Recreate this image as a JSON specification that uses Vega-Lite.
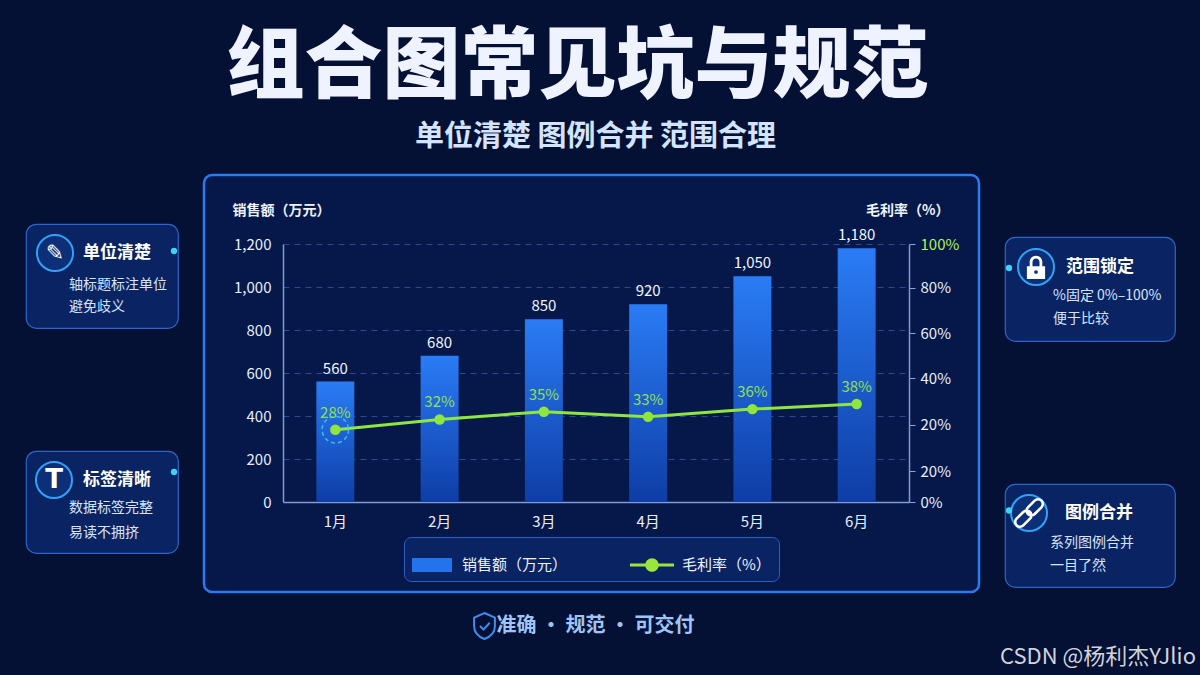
{
  "$schema": "https://vega.github.io/schema/vega-lite/v6.json",
  "background": "#041034",
  "padding": {"left": 25, "top": 0, "right": 40, "bottom": 10},
  "config": {"view": {"stroke": null}, "font": "Noto Sans CJK SC"},
  "datasets": {
    "sales": [
      {"month": "1月", "sales": 560, "rate": 0.28},
      {"month": "2月", "sales": 680, "rate": 0.32},
      {"month": "3月", "sales": 850, "rate": 0.35},
      {"month": "4月", "sales": 920, "rate": 0.33},
      {"month": "5月", "sales": 1050, "rate": 0.36},
      {"month": "6月", "sales": 1180, "rate": 0.38}
    ],
    "boxes": [
      {"id": "b1", "title": "单位清楚", "body": "轴标题标注单位\n避免歧义", "icon": "✎"},
      {"id": "b2", "title": "标签清晰", "body": "数据标签完整\n易读不拥挤", "icon": "T"},
      {"id": "b3", "title": "范围锁定", "body": "%固定 0%–100%\n便于比较", "icon": ""},
      {"id": "b4", "title": "图例合并", "body": "系列图例合并\n一目了然", "icon": ""}
    ],
    "header": [
      {"title": "组合图常见坑与规范", "subtitle": "单位清楚 图例合并 范围合理"}
    ],
    "footer": [
      {"t": "准确 · 规范 · 可交付", "w": "CSDN @杨利杰YJlio"}
    ]
  },
  "spacing": 0,
  "vconcat": [
    {
      "width": 1143,
      "height": 173,
      "data": {"name": "header"},
      "layer": [
        {"mark": {"type": "text", "fontSize": 78, "fontWeight": 900, "color": "#eef3ff", "dx": -20, "dy": -18}, "encoding": {"text": {"field": "title"}}},
        {"mark": {"type": "text", "fontSize": 29, "fontWeight": "bold", "color": "#d4e4ff", "dx": -2, "dy": 50}, "encoding": {"text": {"field": "subtitle"}}}
      ]
    },
    {
      "spacing": 23,
      "hconcat": [
        {
          "spacing": 0,
          "vconcat": [
            {"width": 152, "height": 48, "data": {"values": []}, "mark": {"type": "point", "opacity": 0}},
            {
              "width": 152, "height": 104,
              "view": {"fill": "#0b2667", "fillOpacity": 0.9, "stroke": "#2d64c9", "strokeWidth": 1.2, "cornerRadius": 10},
              "data": {"name": "boxes"},
              "transform": [{"filter": "datum.id == 'b1'"}],
              "layer": [
                {"mark": {"type": "point", "shape": "circle", "filled": true, "size": 1300, "fill": "#0d2f78", "stroke": "#2fa3f7", "strokeWidth": 2, "opacity": 1, "xOffset": -47, "yOffset": -23}},
                {"mark": {"type": "text", "font": "DejaVu Sans", "fontSize": 22, "color": "#ffffff", "dx": -47, "dy": -23}, "encoding": {"text": {"field": "icon"}}},
                {"mark": {"type": "text", "align": "left", "fontSize": 17, "fontWeight": "bold", "color": "#ffffff", "dx": -19, "dy": -23}, "encoding": {"text": {"field": "title"}}},
                {"mark": {"type": "text", "align": "left", "fontSize": 14, "color": "#d8e3ff", "dx": -33, "dy": 9, "lineBreak": "\n", "lineHeight": 22}, "encoding": {"text": {"field": "body"}}},
                {"mark": {"type": "point", "shape": "circle", "filled": true, "size": 40, "color": "#3fd2f5", "opacity": 1, "xOffset": 72, "yOffset": -25}}
              ]
            },
            {"width": 152, "height": 121, "data": {"values": []}, "mark": {"type": "point", "opacity": 0}},
            {
              "width": 152, "height": 102,
              "view": {"fill": "#0b2667", "fillOpacity": 0.9, "stroke": "#2d64c9", "strokeWidth": 1.2, "cornerRadius": 10},
              "data": {"name": "boxes"},
              "transform": [{"filter": "datum.id == 'b2'"}],
              "layer": [
                {"mark": {"type": "point", "shape": "circle", "filled": true, "size": 1300, "fill": "#0d2f78", "stroke": "#2fa3f7", "strokeWidth": 2, "opacity": 1, "xOffset": -48, "yOffset": -22}},
                {"mark": {"type": "text", "font": "DejaVu Sans", "fontSize": 26, "fontWeight": "bold", "color": "#ffffff", "dx": -48, "dy": -22}, "encoding": {"text": {"field": "icon"}}},
                {"mark": {"type": "text", "align": "left", "fontSize": 17, "fontWeight": "bold", "color": "#ffffff", "dx": -19, "dy": -22}, "encoding": {"text": {"field": "title"}}},
                {"mark": {"type": "text", "align": "left", "fontSize": 14, "color": "#d8e3ff", "dx": -33, "dy": 6, "lineBreak": "\n", "lineHeight": 25}, "encoding": {"text": {"field": "body"}}},
                {"mark": {"type": "point", "shape": "circle", "filled": true, "size": 40, "color": "#3fd2f5", "opacity": 1, "xOffset": 72, "yOffset": -30}}
              ]
            }
          ]
        },
        {
          "width": 775,
          "height": 417,
          "view": {"fill": "#051849", "stroke": "#2a7af2", "strokeWidth": 2.5, "cornerRadius": 8},
          "data": {"name": "sales"},
          "encoding": {
            "x": {
              "field": "month",
              "type": "ordinal",
              "sort": null,
              "scale": {"range": [79, 705], "paddingInner": 0.636, "paddingOuter": 0.32},
              "axis": {
                "orient": "bottom",
                "offset": -90,
                "title": null,
                "labelAngle": 0,
                "labelColor": "#e8eeff",
                "labelFontSize": 15,
                "labelPadding": 12,
                "ticks": false,
                "tickSize": 0,
                "domainColor": "#7f9bd6",
                "domainWidth": 1.5,
                "grid": false
              }
            }
          },
          "layer": [
            {
              "encoding": {
                "y": {
                  "field": "sales",
                  "type": "quantitative",
                  "scale": {"domain": [0, 1200], "range": [327, 69], "nice": false},
                  "axis": {
                    "orient": "left",
                    "offset": -79,
                    "values": [0, 200, 400, 600, 800, 1000, 1200],
                    "format": ",.0f",
                    "title": "销售额（万元）",
                    "titleAngle": 0,
                    "titleAlign": "left",
                    "titleBaseline": "middle",
                    "titleX": -51,
                    "titleY": 35,
                    "titleColor": "#eef3ff",
                    "titleFontSize": 14,
                    "titleFontWeight": "bold",
                    "labelColor": "#e8eeff",
                    "labelFontSize": 15,
                    "labelPadding": 12,
                    "ticks": false,
                    "tickSize": 0,
                    "domainColor": "#7f9bd6",
                    "domainWidth": 1.5,
                    "grid": true,
                    "gridColor": "#2b4a8e",
                    "gridDash": [6, 5],
                    "gridWidth": 1
                  }
                }
              },
              "layer": [
                {
                  "mark": {
                    "type": "bar",
                    "fill": {
                      "gradient": "linear",
                      "x1": 0, "y1": 0, "x2": 0, "y2": 1,
                      "stops": [
                        {"offset": 0, "color": "#2a7cf5"},
                        {"offset": 1, "color": "#0e3da6"}
                      ]
                    }
                  }
                },
                {
                  "mark": {"type": "text", "color": "#f2f5ff", "fontSize": 15, "dy": -13},
                  "encoding": {"text": {"field": "sales", "format": ","}}
                }
              ]
            },
            {
              "encoding": {
                "y": {
                  "field": "rate",
                  "type": "quantitative",
                  "scale": {"domain": [0, 1], "range": [327, 69], "nice": false},
                  "axis": {
                    "orient": "right",
                    "offset": -70,
                    "values": [0, 0.12, 0.3, 0.48, 0.655, 0.83, 1],
                    "labelExpr": "datum.value < 0.05 ? '0%' : datum.value < 0.4 ? '20%' : datum.value < 0.55 ? '40%' : datum.value < 0.7 ? '60%' : datum.value < 0.9 ? '80%' : '100%'",
                    "labelColor": {"condition": {"test": "datum.value == 1", "value": "#b3f05e"}, "value": "#e8eeff"},
                    "labelFontSize": 15,
                    "labelPadding": 5,
                    "ticks": true,
                    "tickSize": 6,
                    "tickColor": "#8aa6dc",
                    "domainColor": "#7f9bd6",
                    "domainWidth": 1.5,
                    "grid": false,
                    "title": "毛利率（%）",
                    "titleAngle": 0,
                    "titleAlign": "right",
                    "titleBaseline": "middle",
                    "titleX": 40,
                    "titleY": 35,
                    "titleColor": "#eef3ff",
                    "titleFontSize": 14,
                    "titleFontWeight": "bold"
                  }
                }
              },
              "layer": [
                {
                  "mark": {
                    "type": "line",
                    "color": "#8fe63c",
                    "strokeWidth": 3,
                    "point": {"filled": true, "size": 110, "color": "#8fe63c", "opacity": 1}
                  },
                  "encoding": {}
                },
                {
                  "transform": [{"filter": "datum.month == '1月'"}],
                  "mark": {"type": "point", "shape": "circle", "filled": false, "size": 700, "stroke": "#35bdf2", "strokeWidth": 1.5, "strokeDash": [4, 3], "opacity": 1}
                },
                {
                  "mark": {"type": "text", "color": "#8fe04a", "fontSize": 15, "dy": -17},
                  "encoding": {"text": {"field": "rate", "format": ".0%"}}
                }
              ]
            },
            {
              "transform": [{"filter": "false"}],
              "mark": {"type": "point", "filled": true, "opacity": 1},
              "encoding": {
                "color": {
                  "field": "series",
                  "type": "nominal",
                  "scale": {"domain": ["销售额（万元）", "毛利率（%）"], "range": ["#2373ec", "#9be53f"]},
                  "legend": {
                    "orient": "none",
                    "legendX": 378,
                    "legendY": 537,
                    "direction": "horizontal",
                    "title": null,
                    "fillColor": "#0a2463",
                    "strokeColor": "#2d5fc0",
                    "cornerRadius": 7,
                    "padding": 8,
                    "labelColor": "#eef3ff",
                    "labelFontSize": 15,
                    "labelOffset": 10,
                    "labelLimit": 200,
                    "columnPadding": 62,
                    "symbolSize": 1600,
                    "symbolOpacity": 1,
                    "symbolStrokeWidth": 0
                  }
                },
                "shape": {
                  "field": "series",
                  "type": "nominal",
                  "scale": {
                    "domain": ["销售额（万元）", "毛利率（%）"],
                    "range": [
                      "M-1,-0.35H1V0.35H-1Z",
                      "M-1.1,-0.07H1.1V0.07H-1.1Z M0.34,0A0.34,0.34 0 1,1 -0.34,0A0.34,0.34 0 1,1 0.34,0Z"
                    ]
                  },
                  "legend": {
                    "orient": "none",
                    "legendX": 378,
                    "legendY": 537,
                    "direction": "horizontal",
                    "title": null,
                    "fillColor": "#0a2463",
                    "strokeColor": "#2d5fc0",
                    "cornerRadius": 7,
                    "padding": 8,
                    "labelColor": "#eef3ff",
                    "labelFontSize": 15,
                    "labelOffset": 10,
                    "labelLimit": 200,
                    "columnPadding": 62,
                    "symbolSize": 1600,
                    "symbolOpacity": 1,
                    "symbolStrokeWidth": 0
                  }
                }
              }
            }
          ],
          "resolve": {"scale": {"y": "independent"}}
        },
        {
          "spacing": 0,
          "vconcat": [
            {"width": 170, "height": 61, "data": {"values": []}, "mark": {"type": "point", "opacity": 0}},
            {
              "width": 170, "height": 104,
              "view": {"fill": "#0b2667", "fillOpacity": 0.9, "stroke": "#2d64c9", "strokeWidth": 1.2, "cornerRadius": 10},
              "data": {"name": "boxes"},
              "transform": [{"filter": "datum.id == 'b3'"}],
              "layer": [
                {"mark": {"type": "point", "shape": "circle", "filled": true, "size": 1300, "fill": "#0d2f78", "stroke": "#2fa3f7", "strokeWidth": 2, "opacity": 1, "xOffset": -54, "yOffset": -22}},
                {"mark": {"type": "point", "shape": "M-0.65,-0.05H0.65V0.85H-0.65Z M-0.45,-0.05V-0.35A0.45,0.45 0 0,1 0.45,-0.35V-0.05H0.25V-0.35A0.25,0.25 0 0,0 -0.25,-0.35V-0.05Z", "filled": true, "size": 784, "fill": "#ffffff", "strokeWidth": 0, "opacity": 1, "xOffset": -54, "yOffset": -22}},
                {"mark": {"type": "point", "shape": "circle", "filled": true, "size": 14, "fill": "#0d2f78", "opacity": 1, "xOffset": -54, "yOffset": -17}},
                {"mark": {"type": "text", "align": "left", "fontSize": 17, "fontWeight": "bold", "color": "#ffffff", "dx": -24, "dy": -22}, "encoding": {"text": {"field": "title"}}},
                {"mark": {"type": "text", "align": "left", "fontSize": 14, "color": "#d8e3ff", "dx": -37, "dy": 7, "lineBreak": "\n", "lineHeight": 23}, "encoding": {"text": {"field": "body"}}},
                {"mark": {"type": "point", "shape": "circle", "filled": true, "size": 40, "color": "#3fd2f5", "opacity": 1, "xOffset": -81, "yOffset": -21}}
              ]
            },
            {"width": 170, "height": 141, "data": {"values": []}, "mark": {"type": "point", "opacity": 0}},
            {
              "width": 170, "height": 103,
              "view": {"fill": "#0b2667", "fillOpacity": 0.9, "stroke": "#2d64c9", "strokeWidth": 1.2, "cornerRadius": 10},
              "data": {"name": "boxes"},
              "transform": [{"filter": "datum.id == 'b4'"}],
              "layer": [
                {"mark": {"type": "point", "shape": "circle", "filled": true, "size": 1300, "fill": "#0d2f78", "stroke": "#2fa3f7", "strokeWidth": 2, "opacity": 1, "xOffset": -61, "yOffset": -22.5}},
                {"mark": {"type": "point", "shape": "M0.054,0.3L-0.3,0.654A0.25,0.25 0 0,1 -0.654,0.3L-0.3,-0.054A0.25,0.25 0 0,1 0.054,0.3Z M0.654,-0.3L0.3,0.054A0.25,0.25 0 0,1 -0.054,-0.3L0.3,-0.654A0.25,0.25 0 0,1 0.654,-0.3Z", "filled": false, "size": 1444, "stroke": "#ffffff", "strokeWidth": 2.6, "opacity": 1, "xOffset": -61, "yOffset": -22.5}},
                {"mark": {"type": "text", "align": "left", "fontSize": 17, "fontWeight": "bold", "color": "#ffffff", "dx": -25, "dy": -22.5}, "encoding": {"text": {"field": "title"}}},
                {"mark": {"type": "text", "align": "left", "fontSize": 14, "color": "#d8e3ff", "dx": -40, "dy": 7.5, "lineBreak": "\n", "lineHeight": 23}, "encoding": {"text": {"field": "body"}}},
                {"mark": {"type": "point", "shape": "circle", "filled": true, "size": 40, "color": "#3fd2f5", "opacity": 1, "xOffset": -81, "yOffset": -25}}
              ]
            }
          ]
        }
      ]
    },
    {
      "width": 1143,
      "height": 85,
      "data": {"name": "footer"},
      "layer": [
        {"mark": {"type": "point", "shape": "M0,-1L0.8,-0.65V0C0.8,0.55 0.4,0.85 0,1C-0.4,0.85 -0.8,0.55 -0.8,0V-0.65Z M-0.35,0L-0.08,0.28L0.4,-0.25", "filled": false, "size": 676, "stroke": "#3c8ff0", "strokeWidth": 2, "opacity": 1, "xOffset": -113, "yOffset": -10.5}},
        {"mark": {"type": "text", "fontSize": 20, "fontWeight": "bold", "color": "#9fc4f7", "dx": -2, "dy": -10.5}, "encoding": {"text": {"field": "t"}}},
        {"mark": {"type": "text", "align": "right", "fontSize": 22, "color": "#cfd3dd", "dx": 27, "dy": 20.5}, "encoding": {"x": {"value": "width"}, "text": {"field": "w"}}}
      ]
    }
  ]
}
